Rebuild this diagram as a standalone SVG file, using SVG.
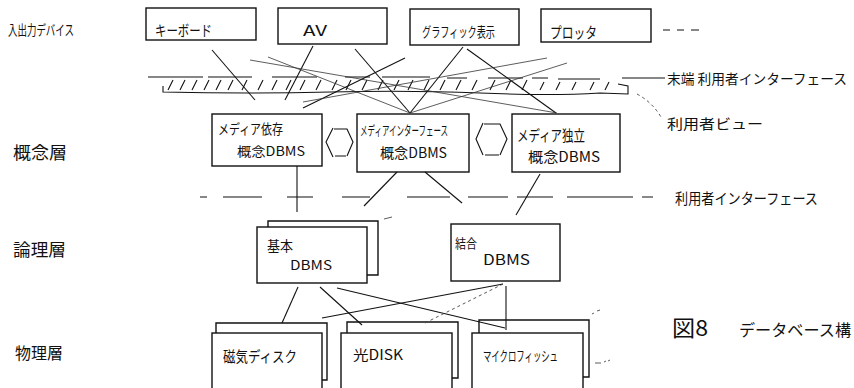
<svg xmlns="http://www.w3.org/2000/svg" width="854" height="388" viewBox="0 0 854 388">
<style>
text{font-family:"Noto Sans CJK JP","Noto Sans",sans-serif;fill:#111;}
.box{fill:none;stroke:#111;stroke-width:1.4;}
.ln{fill:none;stroke:#111;stroke-width:1.1;}
.thin{fill:none;stroke:#333;stroke-width:0.8;}
.dot{fill:none;stroke:#444;stroke-width:0.9;stroke-dasharray:3 3;}
</style>
<rect width="854" height="388" fill="#fff"/>

<!-- layer labels -->
<g id="labels">
<text x="8" y="35" font-size="14" textLength="66" lengthAdjust="spacingAndGlyphs">入出力デバイス</text>
<text x="13" y="159" font-size="17" textLength="54" lengthAdjust="spacingAndGlyphs">概念層</text>
<text x="13" y="256" font-size="17" textLength="53" lengthAdjust="spacingAndGlyphs">論理層</text>
<text x="15" y="359" font-size="16" textLength="48" lengthAdjust="spacingAndGlyphs">物理層</text>
<text x="667" y="84" font-size="13.5" textLength="180" lengthAdjust="spacingAndGlyphs">末端 利用者インターフェース</text>
<text x="667" y="129" font-size="14" textLength="96" lengthAdjust="spacingAndGlyphs">利用者ビュー</text>
<text x="675" y="204" font-size="15" textLength="143" lengthAdjust="spacingAndGlyphs">利用者インターフェース</text>
<text x="672" y="336" font-size="22" textLength="36" lengthAdjust="spacingAndGlyphs">図8</text>
<text x="739" y="336" font-size="16" textLength="112" lengthAdjust="spacingAndGlyphs">データベース構</text>
</g>

<!-- top devices -->
<g id="keyboard"><rect class="box" x="146" y="8" width="110" height="32"/><text x="155" y="36" font-size="15" textLength="57" lengthAdjust="spacingAndGlyphs">キーボード</text></g>
<g id="av"><rect class="box" x="278" y="8" width="109" height="36"/><text x="303" y="36" font-size="15" textLength="24" lengthAdjust="spacingAndGlyphs">AV</text></g>
<g id="graphic"><rect class="box" x="410" y="9" width="109" height="36"/><text x="422" y="37" font-size="14" textLength="73" lengthAdjust="spacingAndGlyphs">グラフィック表示</text></g>
<g id="plotter"><rect class="box" x="541" y="9" width="110" height="33"/><text x="550" y="38" font-size="15" textLength="47" lengthAdjust="spacingAndGlyphs">プロッタ</text></g>
<g id="more-devices"><path class="ln" d="M663,30 h7 M677,30 h7 M691,30 h8"/></g>

<!-- terminal user interface band -->
<g id="terminal-band">
<path class="ln" d="M148,77 H203 M208,77 H252 M272,77 H317 M345,77 H370 M382,77 H430 M447,78 H467 M488,78 H523 M532,78 H548 M558,79 H600"/>
<path class="ln" stroke-width="1.8" d="M163,86 V92 Q250,94 330,92 T480,93 T600,93 L628,94 L628,86 L618,84"/>
<path class="ln" d="M168,90 l5,-10 M180,90 l5,-10 M192,90 l5,-10 M204,90 l5,-10 M216,90 l5,-10 M228,90 l5,-10 M242,90 l5,-10 M258,90 l5,-10 M272,90 l5,-10 M286,90 l5,-10 M300,90 l5,-10 M316,90 l5,-10 M332,90 l5,-10 M346,90 l5,-10 M362,90 l5,-10 M378,90 l5,-10 M394,90 l5,-10 M408,90 l5,-10 M424,90 l5,-10 M440,90 l5,-10 M456,90 l5,-10 M472,90 l5,-10 M490,90 l5,-10 M506,90 l5,-10 M522,90 l5,-10 M540,90 l4,-8 M556,90 l4,-8 M572,90 l4,-8 M590,90 l4,-8 M605,90 l4,-8"/>
<path class="ln" d="M622,78 H665"/>
<path class="dot" d="M637,94 Q652,102 661,117"/>
</g>

<!-- conceptual layer -->
<g id="media-dependent"><rect class="box" x="212" y="114" width="110" height="52"/>
<text x="218" y="134" font-size="14" textLength="65" lengthAdjust="spacingAndGlyphs">メディア依存</text>
<text x="237" y="156" font-size="13" textLength="68" lengthAdjust="spacingAndGlyphs">概念DBMS</text></g>
<g id="media-interface"><rect class="box" x="357" y="114" width="112" height="58"/>
<text x="360" y="135" font-size="13" textLength="88" lengthAdjust="spacingAndGlyphs">メディアインターフェース</text>
<text x="380" y="158" font-size="14" textLength="67" lengthAdjust="spacingAndGlyphs">概念DBMS</text></g>
<g id="media-independent"><rect class="box" x="512" y="114" width="108" height="58"/>
<text x="517" y="141" font-size="15" textLength="68" lengthAdjust="spacingAndGlyphs">メディア独立</text>
<text x="528" y="162" font-size="14" textLength="72" lengthAdjust="spacingAndGlyphs">概念DBMS</text></g>
<g id="bidir-1"><path class="ln" d="M333,128 L326,142 L333,157 M334,129 H347 L353,142 L347,156 M335,156 H346"/></g>
<g id="bidir-2"><path class="ln" d="M483,123 L476,139 L483,155 M484,124 H500 L507,139 L500,155 M485,155 H499"/></g>

<!-- user interface dashed line -->
<g id="user-interface-line"><path class="ln" d="M200,197 H207 M223,197 H262 M287,197 H313 M342,197 H370 M407,197 H450 M468,197 H508 M517,197 H553 M567,197 H633 M642,197 H653"/></g>

<!-- logical layer -->
<g id="basic-dbms"><path class="box" d="M268,227 V221 H378 V275 H367"/><rect class="box" x="257" y="227" width="110" height="56"/>
<text x="267" y="251" font-size="14" textLength="26" lengthAdjust="spacingAndGlyphs">基本</text>
<text x="290" y="270" font-size="13" textLength="42" lengthAdjust="spacingAndGlyphs">DBMS</text>
<path class="thin" d="M384,219 l8,-2"/></g>
<g id="combined-dbms"><rect class="box" x="451" y="224" width="109" height="57"/>
<text x="455" y="248" font-size="13" textLength="22" lengthAdjust="spacingAndGlyphs">結合</text>
<text x="483" y="265" font-size="14" textLength="47" lengthAdjust="spacingAndGlyphs">DBMS</text></g>

<!-- physical layer -->
<g id="magnetic-disk"><path class="box" d="M216,333 V323 H327 V380 H322"/><rect class="box" x="212" y="333" width="110" height="60"/>
<text x="223" y="362" font-size="15" textLength="74" lengthAdjust="spacingAndGlyphs">磁気ディスク</text></g>
<g id="optical-disk"><path class="box" d="M347,333 V322 H458 V378 H452"/><rect class="box" x="341" y="333" width="111" height="60"/>
<text x="353" y="360" font-size="14" textLength="50" lengthAdjust="spacingAndGlyphs">光DISK</text></g>
<g id="microfiche"><path class="box" d="M479,333 V320 H589 V377 H583"/><rect class="box" x="472" y="333" width="111" height="60"/>
<text x="483" y="361" font-size="14" textLength="75" lengthAdjust="spacingAndGlyphs">マイクロフィッシュ</text>
<path class="thin" d="M592,314 l2,-1 M597,311 l3,-1 M595,363 h6 M604,362 l2,-1 M608,361 l2,-1"/></g>

<!-- connectors -->
<g id="connectors">
<path class="ln" d="M212,50 L255,100"/>
<path class="ln" d="M313,46 L285,100"/>
<path class="ln" d="M355,49 L410,113"/>
<path class="ln" d="M463,47 L410,113"/>
<path class="ln" d="M467,49 L556,113"/>
<path class="thin" d="M250,60 L557,113"/>
<path class="thin" d="M268,57 L410,113"/>
<path class="ln" d="M303,108 L405,58"/>
<path class="thin" d="M303,102 L547,58"/>
<path class="thin" d="M567,63 L410,113"/>
<path class="ln" d="M297,166 V212"/>
<path class="ln" d="M397,172 L364,206"/>
<path class="ln" d="M425,172 L462,203"/>
<path class="ln" d="M540,174 L516,215"/>
<path class="ln" d="M298,287 L282,323"/>
<path class="ln" d="M320,287 L362,325"/>
<path class="ln" d="M337,288 L505,328"/>
<path class="ln" d="M503,284 L322,318"/>
<path class="dot" d="M503,284 L425,323"/>
<path class="ln" d="M506,286 V330"/>
</g>
</svg>
